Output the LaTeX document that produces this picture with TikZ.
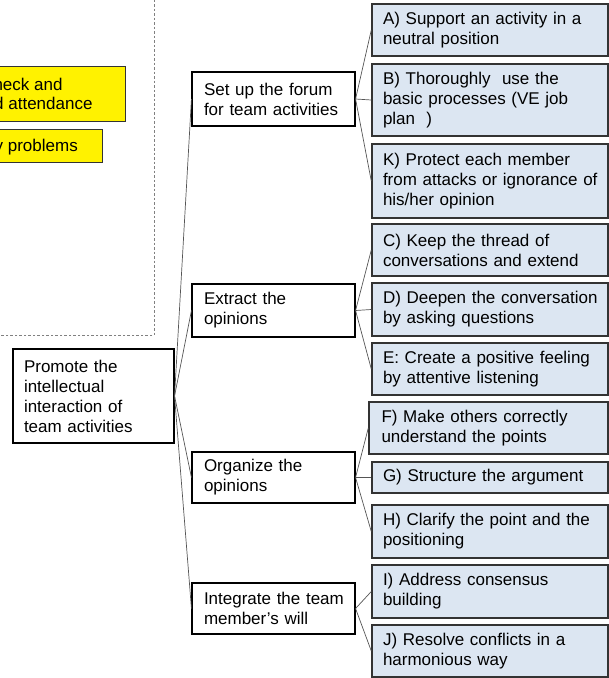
\documentclass[tikz,border=0pt]{standalone}
\usepackage{fontspec}
\setmainfont{Liberation Sans}
\newcommand\ml[1]{\mbox{#1}}
\definecolor{boxblue}{HTML}{DCE6F2}
\definecolor{edgegray}{HTML}{333333}
\definecolor{linegray}{HTML}{555555}
\definecolor{dashgray}{HTML}{808080}
\begin{document}
\begin{tikzpicture}[x=1pt,y=-1pt,
  every node/.style={font=\fontsize{17}{20}\selectfont},
  txt/.style={inner sep=0pt, anchor=base east},
  ybox/.style={draw=edgegray, line width=1.2pt, fill=yellow},
  midbox/.style={draw=black, line width=1.1pt, fill=white, align=left,
    text width=139pt, inner xsep=12pt, inner ysep=0pt, minimum width=163pt},
  rootbox/.style={draw=black, line width=1.1pt, fill=white, align=left,
    text width=139pt, inner xsep=11pt, inner ysep=0pt, minimum width=161pt},
  bbox/.style={draw=edgegray, line width=1.4pt, fill=boxblue, align=left,
    text width=214pt, inner xsep=11pt, inner ysep=0pt, minimum width=236pt},
  conn/.style={draw=linegray, line width=0.7pt}]
\useasboundingbox (0,0) rectangle (609,678);
\clip (0,0) rectangle (609,678);

% partial dashed frame and yellow notes
\draw[dashgray, line width=0.8pt, dash pattern=on 2.5pt off 2pt] (154.3,-5) -- (154.3,335) -- (-5,335);
\draw[ybox] (-5,66.7) rectangle (125.7,121.3);
\draw[ybox] (-5,129.7) rectangle (102.7,162.3);
\node[txt] (y1a) at (62.7,90) {heck and};
\node[txt] (y1b) at (92.7,109.7) {d attendance};
\node[txt] (y2) at (78,151.3) {y problems};

% root
\node[rootbox, minimum height=94pt] (R) at (93.5,396)
  {\ml{Promote the}\\\ml{intellectual}\\\ml{interaction of}\\\ml{team activities}};

% middle level
\node[midbox, minimum height=54pt] (M1) at (273.5,99) {\ml{Set up the forum}\\\ml{for team activities}};
\node[midbox, minimum height=53pt] (M2) at (273.5,310.5) {\ml{Extract the}\\\ml{opinions}};
\node[midbox, minimum height=51pt] (M3) at (273.5,477.5) {\ml{Organize the}\\\ml{opinions}};
\node[midbox, minimum height=51pt] (M4) at (273.5,608.5) {\ml{Integrate the team}\\\ml{member’s will}};

% right level
\node[bbox, minimum height=52pt] (A) at (490,30) {\ml{A) Support an activity in a}\\\ml{neutral position}};
\node[bbox, minimum height=72pt] (B) at (490,100) {\ml{B) Thoroughly\ \ use the}\\\ml{basic processes (VE job}\\\ml{plan\ \ )}};
\node[bbox, minimum height=74pt] (K) at (490,181) {\ml{K) Protect each member}\\\ml{from attacks or ignorance of}\\\ml{his/her opinion}};
\node[bbox, minimum height=52pt] (C) at (490,250) {\ml{C) Keep the thread of}\\\ml{conversations and extend}};
\node[bbox, minimum height=53pt] (D) at (490,309.5) {\ml{D) Deepen the conversation}\\\ml{by asking questions}};
\node[bbox, minimum height=52pt] (E) at (490,369) {\ml{E: Create a positive feeling}\\\ml{by attentive listening}};
\node[bbox, minimum height=52pt, minimum width=239pt] (F) at (488.5,428) {\ml{F) Make others correctly}\\\ml{understand the points}};
\node[bbox, minimum height=31pt] (G) at (490,477.5) {\ml{G) Structure the argument}};
\node[bbox, minimum height=53pt] (H) at (490,531.5) {\ml{H) Clarify the point and the}\\\ml{positioning}};
\node[bbox, minimum height=53pt] (I) at (490,591.5) {\ml{I) Address consensus}\\\ml{building}};
\node[bbox, minimum height=52pt] (J) at (490,651) {\ml{J) Resolve conflicts in a}\\\ml{harmonious way}};

% connectors
\foreach \m in {M1,M2,M3,M4} \draw[conn] (R.east) -- (\m.west);
\foreach \t in {A,B,K} \draw[conn] (M1.east) -- (\t.west);
\foreach \t in {C,D,E} \draw[conn] (M2.east) -- (\t.west);
\foreach \t in {F,G,H} \draw[conn] (M3.east) -- (\t.west);
\foreach \t in {I,J} \draw[conn] (M4.east) -- (\t.west);
\end{tikzpicture}
\end{document}
